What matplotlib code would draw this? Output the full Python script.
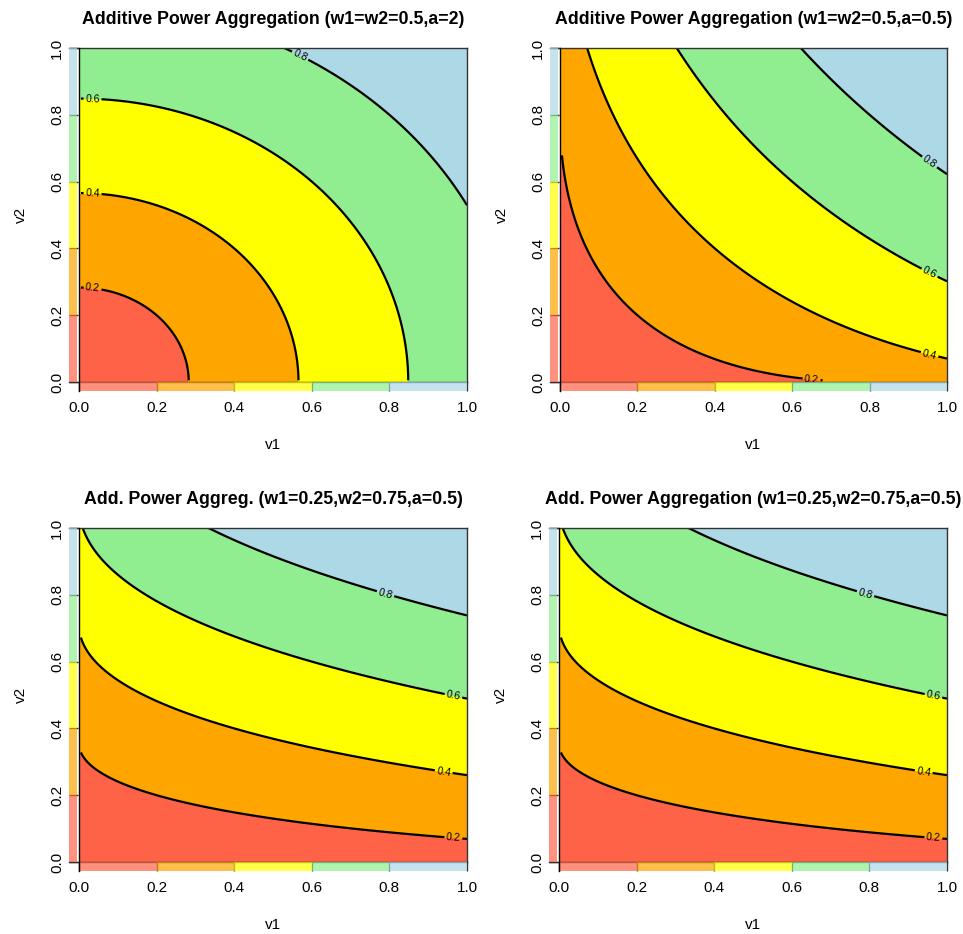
import numpy as np
import matplotlib
matplotlib.use("Agg")
import matplotlib.pyplot as plt
from matplotlib.patches import Rectangle
from matplotlib.colors import to_rgba

plt.rcParams["font.family"] = ["Liberation Sans", "DejaVu Sans"]

# panel parameters
titles = [
    "Additive Power Aggregation (w1=w2=0.5,a=2)",
    "Additive Power Aggregation (w1=w2=0.5,a=0.5)",
    "Add. Power Aggreg. (w1=0.25,w2=0.75,a=0.5)",
    "Add. Power Aggregation (w1=0.25,w2=0.75,a=0.5)",
]
w1_vals = [0.5, 0.5, 0.25, 0.25]
w2_vals = [0.5, 0.5, 0.75, 0.75]
a_vals = [2.0, 0.5, 0.5, 0.5]

levels = [0.0, 0.2, 0.4, 0.6, 0.8, 1.0]
fill_colors = ["tomato", "orange", "yellow", "lightgreen", "lightblue"]
tick_vals = [0.0, 0.2, 0.4, 0.6, 0.8, 1.0]
tick_labels = ["0.0", "0.2", "0.4", "0.6", "0.8", "1.0"]

# where along v1 the contour labels sit (level 0.2 .. 0.8)
label_v1 = [
    [0.035, 0.035, 0.035, 0.57],
    [0.65, 0.955, 0.955, 0.955],
    [0.965, 0.94, 0.965, 0.79],
    [0.965, 0.94, 0.965, 0.79],
]

W, H = 963, 934
# axes boxes in pixels: left, right, top, bottom
boxes = [
    (69, 467, 48, 382),
    (550, 947, 48, 382),
    (69, 467, 528, 862),
    (549, 947, 528, 862),
]
zero_px = 10  # gap between box edge and v1 = 0


def agg(v1, v2, w1, w2, a):
    return (w1 * v1 ** a + w2 * v2 ** a) ** (1.0 / a)


fig = plt.figure(figsize=(W / 100, H / 100), dpi=100)

g = np.linspace(0.005, 1, 500)
V1, V2 = np.meshgrid(g, g)

for i in range(4):
    l, r, t, b = boxes[i]
    ax = fig.add_axes([l / W, 1 - b / H, (r - l) / W, (b - t) / H])
    w1, w2, a = w1_vals[i], w2_vals[i], a_vals[i]
    Z = agg(V1, V2, w1, w2, a)

    x0 = -zero_px / (r - l - zero_px)
    strip_h = 9 / (b - t)
    xc = (0.5 - x0) / (1 - x0)  # centre of the plot region in axes fraction

    # fill from the axis edge so no gap shows at v1 = 0
    gx = np.concatenate([[0.0], g])
    GX, GY = np.meshgrid(gx, gx)
    Zf = np.zeros_like(GX)
    Zf[1:, 1:] = Z
    Zf[0, 1:] = Z[0]
    Zf[1:, 0] = Z[:, 0]
    Zf[0, 0] = Z[0, 0]
    ax.contourf(GX, GY, Zf, levels=[0, 0.2, 0.4, 0.6, 0.8, 1.0001], colors=fill_colors)
    cs = ax.contour(V1, V2, Z, levels=levels[1:-1], colors="black", linewidths=1.6)

    # label positions on each curve
    pos = []
    for k, lev in enumerate(levels[1:-1]):
        v1 = label_v1[i][k]
        v2 = ((lev ** a - w1 * v1 ** a) / w2) ** (1.0 / a)
        pos.append((v1, v2))
    ax.clabel(cs, fmt="%.1f", fontsize=7.5, inline=True, inline_spacing=2, manual=pos)

    # colour key strips along both axes
    for k in range(5):
        c = to_rgba(fill_colors[k], 0.7)
        ax.add_patch(Rectangle((x0, levels[k]), -x0 - 0.004, 0.2, color=c, lw=0, zorder=3))
        ax.add_patch(Rectangle((levels[k], -strip_h), 0.2, strip_h, color=c, lw=0,
                               clip_on=False, zorder=3))
    ax.plot([0, 0], [-strip_h, 1], color="black", lw=1.0, clip_on=False, zorder=4)

    ax.set_xlim(x0, 1)
    ax.set_ylim(0, 1)
    ax.spines["left"].set_visible(False)
    for s in ["top", "right", "bottom"]:
        ax.spines[s].set_linewidth(1.0)
        ax.spines[s].set_color("#333333")

    ax.set_xticks(tick_vals)
    ax.set_xticklabels(tick_labels)
    ax.set_yticks(tick_vals)
    ax.set_yticklabels(tick_labels, rotation=90, va="center")
    ax.tick_params(axis="x", direction="out", length=6.5, width=1.0, color="#333333",
                   labelsize=11, pad=7)
    ax.tick_params(axis="y", direction="in", length=6.5, width=1.0, color="#333333",
                   labelsize=11, pad=3.5)
    ax.set_xlabel("v1", fontsize=11, labelpad=17)
    ax.xaxis.label.set_x(xc)
    ax.set_ylabel("v2", fontsize=11, labelpad=16)
    ax.set_title(titles[i], fontsize=12.8, fontweight="bold", pad=17, x=xc)

fig.savefig("out.png", dpi=100)
